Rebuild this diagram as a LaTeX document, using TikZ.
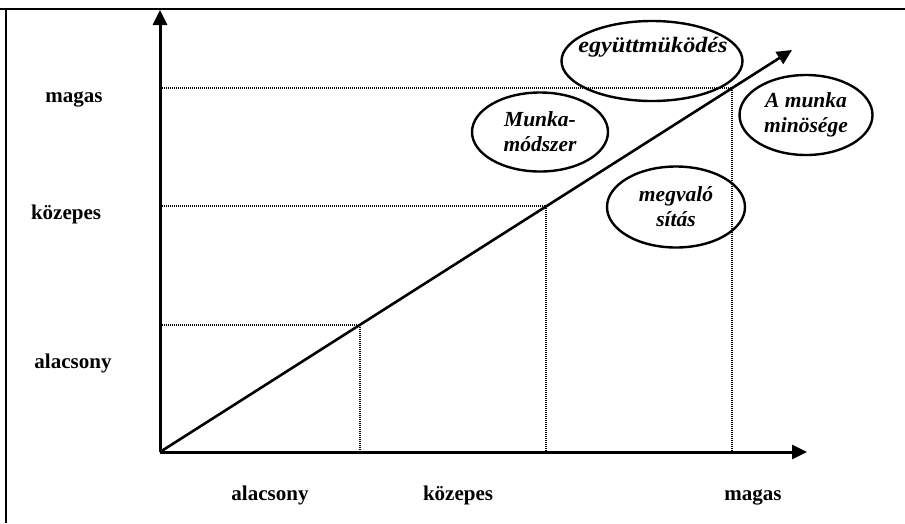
\documentclass[tikz,border=0pt]{standalone}
\usepackage{fontspec}
\setmainfont{Liberation Serif}
\usetikzlibrary{arrows.meta,shapes.geometric}
\tikzset{
  axis/.style={line width=3pt,-{Triangle[length=15pt,width=14pt]}},
  guide/.style={line width=1.8pt,dash pattern=on 1.2pt off 0.8pt},
  lvl/.style={font=\fontsize{21}{25}\selectfont\bfseries,anchor=base},
  bubble/.style={draw,ellipse,line width=2.4pt,inner sep=0pt,align=center,
    font=\fontsize{21.5}{25}\selectfont\bfseries\itshape}
}
\begin{document}
\begin{tikzpicture}[x=1pt,y=-1pt]
  \useasboundingbox (0,0) rectangle (905,523);
  \draw[line width=2pt] (0,9) -- (6,9) -- (905,9);
  \draw[line width=2pt] (6,9) -- (6,523);

  \coordinate (orig) at (160,452);
  \coordinate (ytip) at (160,10);
  \coordinate (xtip) at (807,452);
  \coordinate (dtip) at (792,50);
  \coordinate (lo) at (360,325);
  \coordinate (mid) at (546,206);
  \coordinate (hi) at (732,88);
  \coordinate (ylo) at (160,325);
  \coordinate (ymid) at (160,206);
  \coordinate (yhi) at (160,88);
  \coordinate (xlo) at (360,452);
  \coordinate (xmid) at (546,452);
  \coordinate (xhi) at (732,452);

  \draw[guide] (ylo) -- (lo) -- (xlo);
  \draw[guide] (ymid) -- (mid) -- (xmid);
  \draw[guide] (yhi) -- (hi) -- (xhi);

  \draw[axis] (orig) -- (ytip);
  \draw[axis] (orig) -- (xtip);
  \draw[axis,line width=2.6pt] (orig) -- (dtip);

  \node[lvl] (ymagas) at (74,102) {magas};
  \node[lvl] (ykozep) at (66,219) {közepes};
  \node[lvl] (yalacs) at (73,368) {alacsony};
  \node[lvl] (xalacs) at (270,500) {alacsony};
  \node[lvl] (xkozep) at (458,500) {közepes};
  \node[lvl] (xmagas) at (753,500) {magas};

  \node[bubble,minimum width=181pt,minimum height=80pt] (egyutt) at (652,61) {};
  \node[bubble,draw=none,font=\fontsize{22}{26}\selectfont\bfseries\itshape\addfontfeatures{FakeStretch=1.1}] (egyutttext) at (653,47) {együttmüködés};
  \node[bubble,minimum width=136pt,minimum height=79pt] (modszer) at (540,132) {Munka-\\módszer};
  \node[bubble,minimum width=133pt,minimum height=80pt] (minoseg) at (806,115) {A munka\\minösége};
  \node[bubble,minimum width=138pt,minimum height=81pt] (megval) at (676,207) {megvaló\\sítás};
\end{tikzpicture}
\end{document}
